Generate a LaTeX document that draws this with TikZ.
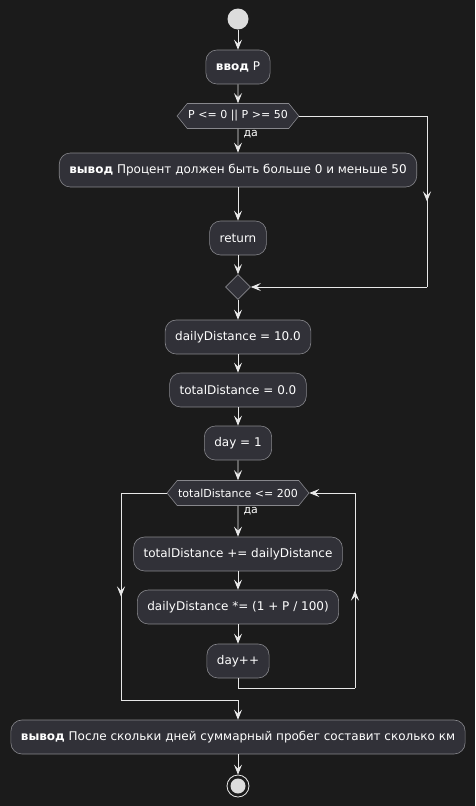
\documentclass[tikz,border=0pt]{standalone}
\usepackage{fontspec}
\setmainfont{DejaVu Sans}
\usepackage{xcolor}
\usetikzlibrary{arrows.meta,shapes.symbols,shapes.geometric,decorations.markings}

\definecolor{bgcol}{RGB}{27,27,27}
\definecolor{actfill}{RGB}{49,49,56}
\definecolor{actline}{RGB}{135,135,140}
\definecolor{flowcol}{RGB}{232,232,232}

\begin{document}
\begin{tikzpicture}[x=1pt,y=-1pt,
  act/.style={draw=actline, fill=actfill, rounded corners=11pt, minimum height=34pt,
    inner xsep=10pt, text=white, line width=0.6pt, font=\fontsize{12}{14}\selectfont},
  cond/.style={draw=actline, fill=actfill, signal, signal to=west and east,
    signal pointer angle=102, minimum height=25pt, inner xsep=1pt, inner ysep=2pt,
    text=white, line width=0.6pt, font=\fontsize{11}{13}\selectfont},
  merge/.style={draw=actline, fill=actfill, diamond, minimum size=25pt, inner sep=0pt, line width=0.6pt},
  flow/.style={draw=flowcol, line width=0.8pt, -{Stealth[length=10pt,width=8pt,inset=4pt]}},
  line/.style={draw=flowcol, line width=0.8pt},
  midarrow/.style={postaction={decorate}, decoration={markings,
    mark=at position #1 with {\arrow{Stealth[length=10pt,width=8pt,inset=4pt,flowcol]}}}},
  yes/.style={text=white, anchor=west, font=\fontsize{11}{13}\selectfont}
]
%background
\fill[bgcol] (0,0) rectangle (475,806);
\useasboundingbox (0,0) rectangle (475,806);

%start
\node[circle, fill=flowcol!95!black, minimum size=21pt, inner sep=0pt] (start) at (238,19) {};

%input and check
\node[act] (input) at (238,67) {\textbf{ввод} P};
\node[cond] (check) at (238,116) {P <= 0 || P >= 50};
\node[yes] (yes1) at (240,134) {да};
\node[act] (warn) at (238,170) {\textbf{вывод} Процент должен быть больше 0 и меньше 50};
\node[act] (ret) at (238,238) {return};
\node[merge] (join) at (238,287) {};
\coordinate (cr1) at (427,116);
\coordinate (cr2) at (427,287);

%init
\node[act] (daily) at (238,337) {dailyDistance = 10.0};
\node[act] (total) at (238,390) {totalDistance = 0.0};
\node[act] (day) at (238,443) {day = 1};

%loop
\node[cond] (loop) at (238,493) {totalDistance <= 200};
\node[yes] (yes2) at (240,511) {да};
\node[act] (addtotal) at (238,554) {totalDistance += dailyDistance};
\node[act] (grow) at (238,607) {dailyDistance *= (1 + P / 100)};
\node[act] (dayinc) at (238,661) {day++};
\coordinate (lb1) at (238,688);
\coordinate (lb2) at (355,688);
\coordinate (lb3) at (355,493);
\coordinate (ex1) at (121,493);
\coordinate (ex2) at (121,700);
\coordinate (ex3) at (238,700);

%result and end
\node[act] (result) at (238,737) {\textbf{вывод} После скольки дней суммарный пробег составит сколько км};
\node[circle, draw=flowcol, line width=0.8pt, minimum size=22pt, inner sep=0pt] (stop) at (238,786) {};
\fill[flowcol!95!black] (stop.center) circle (7.5pt);

%connectors
\draw[flow] (start) -- (input);
\draw[flow] (input) -- (check);
\draw[flow] (check) -- (warn);
\draw[flow] (warn) -- (ret);
\draw[flow] (ret) -- (join);
\draw[line] (check.east) -- (cr1);
\draw[line, midarrow=0.5] (cr1) -- (cr2);
\draw[flow] (cr2) -- (join.east);
\draw[flow] (join) -- (daily);
\draw[flow] (daily) -- (total);
\draw[flow] (total) -- (day);
\draw[flow] (day) -- (loop);
\draw[flow] (loop) -- (addtotal);
\draw[flow] (addtotal) -- (grow);
\draw[flow] (grow) -- (dayinc);
\draw[line] (dayinc) -- (lb1) -- (lb2);
\draw[line, midarrow=0.5] (lb2) -- (lb3);
\draw[flow] (lb3) -- (loop.east);
\draw[line] (loop.west) -- (ex1);
\draw[line, midarrow=0.5] (ex1) -- (ex2);
\draw[flow] (ex2) -- (ex3) -- (result);
\draw[flow] (result) -- (stop);

\end{tikzpicture}
\end{document}
